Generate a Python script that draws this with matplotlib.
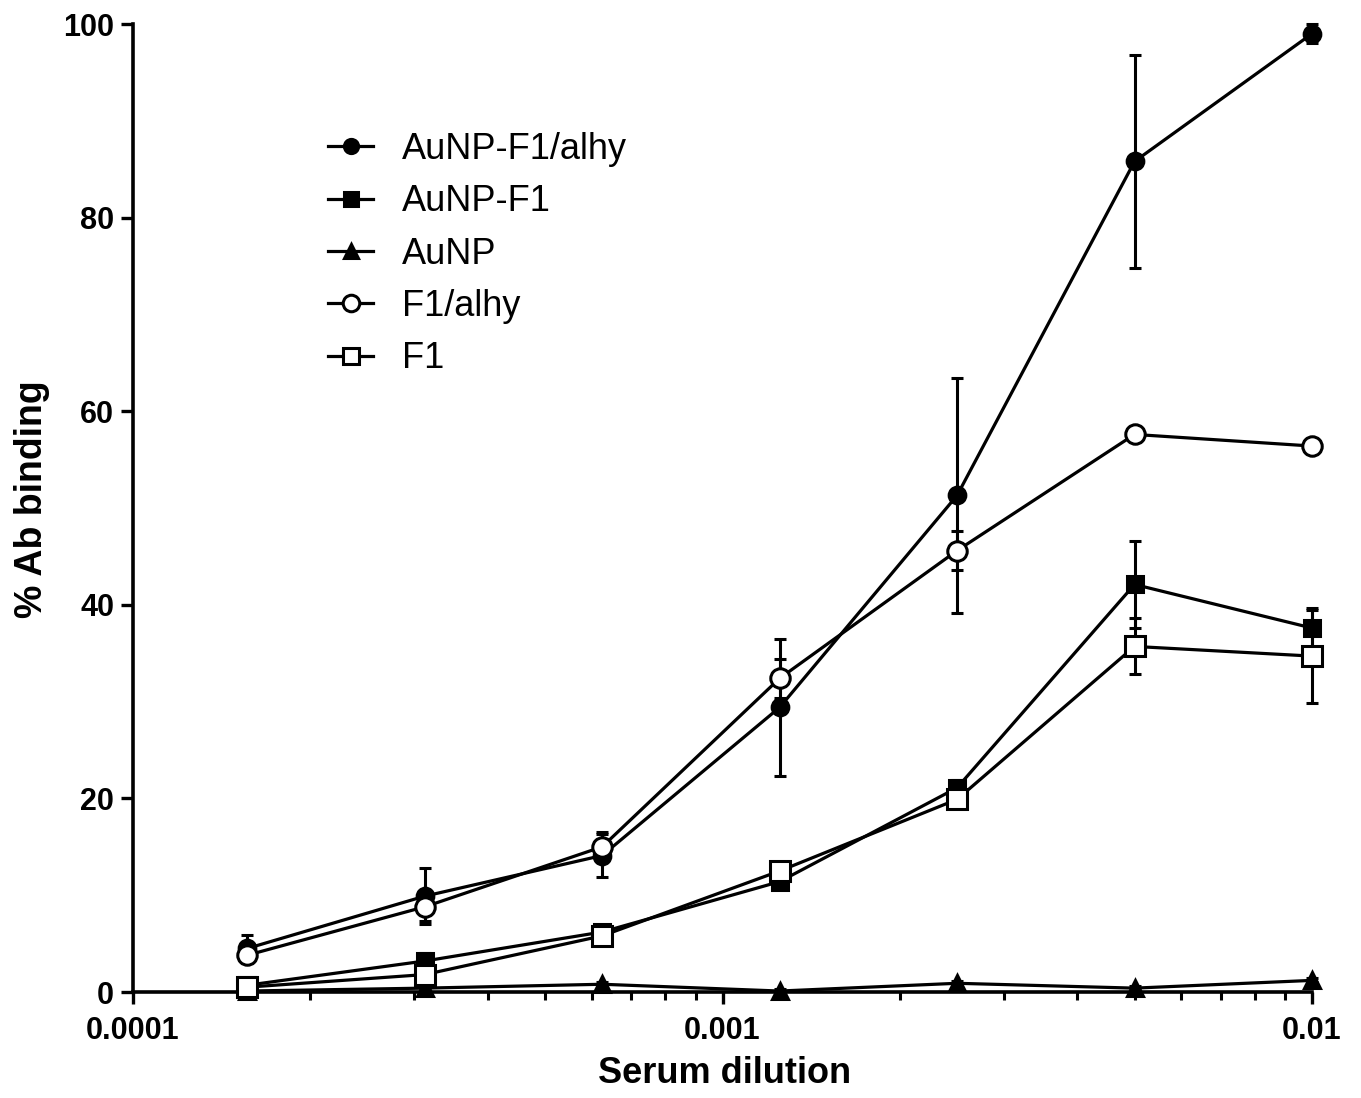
import numpy as np
import matplotlib
matplotlib.use('Agg')
import matplotlib.pyplot as plt
from matplotlib.ticker import LogLocator, FixedLocator, FixedFormatter, NullFormatter

# 稀释度
dilution = [1/6400, 1/3200, 1/1600, 1/800, 1/400, 1/200, 1/100]

aunp_f1_alhy = [4.5, 9.9, 14.1, 29.4, 51.3, 85.8, 99.0]
aunp_f1_alhy_err = [1.4, 2.9, 2.2, 7.1, 12.1, 11.0, 1.0]
aunp_f1 = [0.7, 3.2, 6.2, 11.4, 21.1, 42.1, 37.6]
aunp_f1_err = [0.5, 0.8, 0.6, 0.8, 0.8, 4.5, 2.1]
aunp = [0.1, 0.4, 0.8, 0.1, 0.9, 0.4, 1.2]
aunp_err = [0.2, 0.2, 0.2, 0.2, 0.2, 0.2, 0.2]
f1_alhy = [3.8, 8.8, 15.0, 32.4, 45.6, 57.6, 56.4]
f1_alhy_err = [0.8, 1.5, 1.5, 2.0, 2.0, 0.5, 0.5]
f1 = [0.5, 1.8, 5.8, 12.5, 19.9, 35.7, 34.7]
f1_err = [0.3, 0.5, 0.5, 0.8, 0.8, 2.9, 4.8]

labels = ['AuNP-F1/alhy', 'AuNP-F1', 'AuNP', 'F1/alhy', 'F1']
x_ticks = [0.0001, 0.001, 0.01]
x_tick_labels = ['0.0001', '0.001', '0.01']
y_ticks = [0, 20, 40, 60, 80, 100]

plt.rcParams['font.family'] = ['Liberation Sans', 'DejaVu Sans']

fig = plt.figure(figsize=(13.61, 10.98), dpi=100)
ax = fig.add_axes([133/1361, 1-992/1098, (1312-133)/1361, (992-24)/1098])

series = [
    (aunp_f1_alhy, aunp_f1_alhy_err, 'o', 'black', 12),
    (aunp_f1, aunp_f1_err, 's', 'black', 12),
    (aunp, aunp_err, '^', 'black', 12),
    (f1_alhy, f1_alhy_err, 'o', 'white', 14),
    (f1, f1_err, 's', 'white', 14),
]

handles = []
for (vals, errs, mk, fc, ms), lab in zip(series, labels):
    cont = ax.errorbar(dilution, vals, yerr=errs, color='black', linewidth=2.3,
                       marker=mk, markersize=ms, markerfacecolor=fc, markeredgecolor='black',
                       markeredgewidth=2.2, elinewidth=2.2, capsize=4.5, capthick=2.2,
                       label=lab, clip_on=False, zorder=3)
    handles.append(cont[0])

ax.set_xscale('log')
ax.set_xlim(0.0001, 0.01)
ax.set_ylim(0, 100)

ax.xaxis.set_major_locator(FixedLocator(x_ticks))
ax.xaxis.set_major_formatter(FixedFormatter(x_tick_labels))
ax.xaxis.set_minor_locator(LogLocator(base=10, subs=np.arange(2, 10)))
ax.xaxis.set_minor_formatter(NullFormatter())
ax.set_yticks(y_ticks)

ax.spines['top'].set_visible(False)
ax.spines['right'].set_visible(False)
width = 2.6
ax.spines['left'].set_linewidth(width)
ax.spines['bottom'].set_linewidth(width)
ax.tick_params(axis='both', which='major', length=8.5, width=2.4, direction='out',
               labelsize=22)
ax.tick_params(axis='x', which='major', pad=9)
ax.tick_params(axis='y', which='major', pad=5)
ax.tick_params(axis='x', which='minor', length=5.5, width=2.2, direction='out')
for t in ax.get_xticklabels() + ax.get_yticklabels():
    t.set_fontweight('bold')

ax.set_xlabel('Serum dilution', fontsize=26, fontweight='bold')
ax.set_ylabel('% Ab binding', fontsize=27, fontweight='bold')
ax.xaxis.set_label_coords((725-133)/1179, -(1056-992)/968)
ax.yaxis.set_label_coords(-(133-50)/1179, (992-499)/968)

fig.legend(handles, labels, loc='upper left', bbox_to_anchor=(328/1361, 1-132/1098),
           frameon=False, fontsize=26, handlelength=1.25, handletextpad=0.8,
           labelspacing=0.48, borderpad=0, borderaxespad=0, markerscale=0.85)

fig.savefig('out.png', dpi=100)
